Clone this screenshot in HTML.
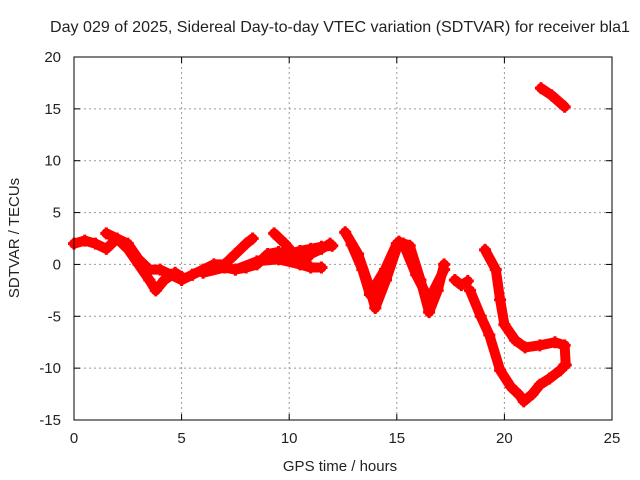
<!DOCTYPE html>
<html><head><meta charset="utf-8"><style>body{margin:0;background:#fff}svg{display:block}text{font-family:"Liberation Sans",sans-serif;font-size:14px;fill:#222}</style></head>
<body>
<svg id="chart" width="640" height="480">
<text x="340" y="32" text-anchor="middle" style="font-size:16px" textLength="580" lengthAdjust="spacingAndGlyphs">Day 029 of 2025, Sidereal Day-to-day VTEC variation (SDTVAR) for receiver bla1</text>
<text x="340" y="471" text-anchor="middle" style="font-size:15px">GPS time / hours</text>
<text transform="translate(19,238) rotate(-90)" text-anchor="middle" style="font-size:15px">SDTVAR / TECUs</text>
<g id="grid"></g><g id="marks"></g>
<rect x="74" y="57" width="538" height="363" fill="none" stroke="#000" stroke-width="1"/>
</svg>
<script>
const xTicks=[0,5,10,15,20,25];
const yTicks=[-15,-10,-5,0,5,10,15,20];
const traceA=[[0,2],[0.5,2.3],[1,2],[1.5,1.5],[2,2.5],[2.5,1.5],[3,0],[3.5,-1.5],[3.8,-2.5],[4.2,-1.5],[4.7,-0.8],[5,-1.2]];
const traceB=[[1.5,3],[2,2.5],[2.5,2],[3,0.5],[3.5,-0.5],[4,-0.5],[4.5,-1],[5,-1.5],[5.5,-1]];
const traceC=[[5.5,-1],[6,-0.5],[6.5,0],[7,0],[7.5,1],[8,2],[8.3,2.5]];
const traceD=[[6,-0.8],[7,-0.3],[7.5,-0.5],[8,-0.3],[8.5,0],[9,1],[9.5,1.2],[10,1],[10.5,1.3],[11,1.5],[11.5,1.7],[12,1.8]];
const traceE=[[7.5,-0.5],[8.5,0.3],[9.5,0.5],[10.5,0],[11,-0.3],[11.5,-0.3]];
const traceF=[[9.3,3],[9.8,2],[10.3,0.8],[10.7,0.3],[11,1],[11.5,1.5],[11.9,2]];
const traceG=[[12.6,3.1],[13.2,1],[13.7,-2],[14,-4.2],[14.5,-1.5],[15.1,2.2],[15.6,1.8],[16.1,-1.5],[16.5,-4.6],[16.9,-2.5],[17.2,0]];
const traceH=[[12.9,1.9],[13.4,-0.5],[13.75,-2.9],[14.45,-0.5],[15,2]];
const traceI=[[15.3,2],[15.9,-1],[16.5,-3.4],[17.2,-0.5]];
const traceJ=[[17.7,-1.5],[18,-2],[18.3,-1.6]];
const traceK=[[18.4,-2.5],[18.9,-5],[19.3,-6.8],[19.8,-10.2],[20.3,-11.8],[20.7,-12.6],[20.9,-13.2],[21.3,-12.5],[21.65,-11.6],[22.1,-11],[22.6,-10.2],[22.8,-9.7]];
const traceL=[[19.1,1.4],[19.6,-0.5],[19.8,-3.4],[20,-5.8],[20.5,-7.3],[20.96,-8],[21.65,-7.8],[22.35,-7.5],[22.8,-7.8],[22.85,-9.7]];
const traceM=[[21.7,17],[22.2,16.3],[22.8,15.2]];
const traces=[traceA,traceB,traceC,traceD,traceE,traceF,traceG,traceH,traceI,traceJ,traceK,traceL,traceM];
const NS='http://www.w3.org/2000/svg';
const X=h=>74+h*538/25, Y=v=>57+(20-v)*363/35;
const grid=document.getElementById('grid'), marks=document.getElementById('marks');
function el(t,a,p){const e=document.createElementNS(NS,t);for(const k in a)e.setAttribute(k,a[k]);p.appendChild(e);return e;}
xTicks.forEach(t=>{const x=X(t);
 if(t>0&&t<25){const g=el('line',{x1:x,x2:x,y1:57,y2:420,stroke:'#999','stroke-dasharray':'2,3'},grid);
 
 }
 el('line',{x1:x,x2:x,y1:420,y2:414,stroke:'#000'},grid);el('line',{x1:x,x2:x,y1:57,y2:63,stroke:'#000'},grid);
 const l=el('text',{x:x,y:443,'text-anchor':'middle',style:'font-size:15px'},grid);l.textContent=t;
 
 });
yTicks.forEach(t=>{const y=Y(t);
 if(t>-15&&t<20){const g=el('line',{x1:74,x2:612,y1:y,y2:y,stroke:'#999','stroke-dasharray':'2,3'},grid);
 
 }
 el('line',{x1:74,x2:80,y1:y,y2:y,stroke:'#000'},grid);el('line',{x1:612,x2:606,y1:y,y2:y,stroke:'#000'},grid);
 const l=el('text',{x:61,y:y+5,'text-anchor':'end',style:'font-size:15px'},grid);l.textContent=t;
 
 });
traces.forEach(tr=>{
 const p=el('polyline',{points:tr.map(d=>X(d[0])+','+Y(d[1])).join(' '),fill:'none',stroke:'#f00','stroke-width':10,'stroke-linejoin':'round','stroke-linecap':'round'},marks);
 
 
 tr.forEach(d=>{const x=X(d[0]),y=Y(d[1]);
  const m=el('path',{d:`M${x-6},${y}H${x+6}M${x},${y-6}V${y+6}`,stroke:'#f00','stroke-width':3},marks);
  
  });
});
</script>
</body></html>
